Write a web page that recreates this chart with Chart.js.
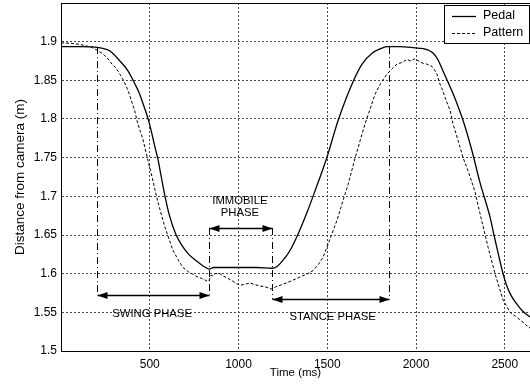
<!DOCTYPE html>
<html>
<head>
<meta charset="utf-8">
<script src="https://cdn.jsdelivr.net/npm/chart.js@4"></script>
<style>
  html, body { margin: 0; padding: 0; background: #fff; }
</style>
</head>
<body>
<canvas id="distChart" width="530" height="387"></canvas>
<script>
// Pedal (solid) readings, time in ms / distance in m
const pedalTime = [0, 100, 180, 230, 276, 332, 378, 417, 440, 462,
  480, 498, 515, 530, 546, 565, 586, 610, 645, 680,
  720, 760, 800, 835, 860, 900, 1000, 1100, 1190, 1215,
  1234, 1260, 1290, 1337, 1384, 1431, 1496, 1561, 1639, 1696,
  1752, 1800, 1836, 1910, 1994, 2040, 2070, 2097, 2125, 2152,
  2210, 2265, 2315, 2360, 2417, 2439, 2465, 2490, 2510, 2535,
  2567, 2603, 2642];
const pedalDist = [1.8935, 1.8935, 1.8933, 1.8915, 1.888, 1.875, 1.862, 1.845, 1.834, 1.820,
  1.808, 1.794, 1.778, 1.763, 1.748, 1.725, 1.700, 1.676, 1.652, 1.637,
  1.625, 1.617, 1.610, 1.606, 1.608, 1.608, 1.608, 1.608, 1.607, 1.609,
  1.613, 1.620, 1.630, 1.652, 1.678, 1.707, 1.749, 1.798, 1.845, 1.871,
  1.885, 1.891, 1.8935, 1.8935, 1.892, 1.891, 1.889, 1.885, 1.876, 1.862,
  1.832, 1.798, 1.759, 1.718, 1.673, 1.650, 1.624, 1.600, 1.585, 1.572,
  1.561, 1.551, 1.544];

// Pattern (dashed) readings
const patternTime = [0, 50, 107, 150, 180, 210, 237, 260, 287, 310,
  332, 352, 372, 385, 400, 415, 428, 445, 460, 473,
  490, 505, 520, 535, 549, 567, 586, 608, 631, 660,
  687, 720, 745, 766, 790, 810, 825, 835, 845, 856,
  870, 896, 913, 940, 969, 990, 1008, 1030, 1065, 1090,
  1121, 1150, 1175, 1189, 1210, 1234, 1270, 1300, 1330, 1360,
  1390, 1420, 1450, 1476, 1498, 1527, 1555, 1589, 1617, 1640,
  1656, 1685, 1713, 1740, 1769, 1800, 1836, 1865, 1893, 1920,
  1949, 1970, 1994, 2020, 2040, 2060, 2090, 2105, 2118, 2135,
  2150, 2163, 2192, 2208, 2237, 2265, 2293, 2315, 2332, 2360,
  2406, 2445, 2490, 2530, 2560, 2586, 2610, 2631, 2642];
const patternDist = [1.8985, 1.898, 1.8965, 1.894, 1.892, 1.888, 1.884, 1.879, 1.871, 1.866,
  1.858, 1.850, 1.840, 1.832, 1.821, 1.811, 1.798, 1.785, 1.775, 1.763,
  1.746, 1.733, 1.718, 1.703, 1.690, 1.675, 1.660, 1.645, 1.630, 1.618,
  1.608, 1.602, 1.599, 1.596, 1.594, 1.592, 1.590, 1.592, 1.598, 1.597,
  1.600, 1.600, 1.597, 1.594, 1.590, 1.587, 1.585, 1.586, 1.588, 1.586,
  1.584, 1.583, 1.581, 1.580, 1.583, 1.585, 1.588, 1.591, 1.594, 1.597,
  1.600, 1.604, 1.612, 1.621, 1.634, 1.652, 1.669, 1.695, 1.715, 1.735,
  1.749, 1.772, 1.794, 1.812, 1.832, 1.846, 1.858, 1.865, 1.871, 1.873,
  1.877, 1.875, 1.878, 1.874, 1.872, 1.871, 1.868, 1.863, 1.858, 1.845,
  1.837, 1.828, 1.811, 1.794, 1.772, 1.750, 1.733, 1.718, 1.706, 1.678,
  1.634, 1.600, 1.566, 1.550, 1.545, 1.540, 1.536, 1.531, 1.530];

const xTicks = [0, 500, 1000, 1500, 2000, 2500];
const yTicks = [1.5, 1.55, 1.6, 1.65, 1.7, 1.75, 1.8, 1.85, 1.9];

// phase markers: [time, top value, bottom value]
const guideLines = [[200, 1.893, 1.573], [835, 1.659, 1.573], [1190, 1.659, 1.567], [1850, 1.893, 1.567]];
// arrows: [from time, to time, value]
const phaseArrows = [[200, 835, 1.573], [835, 1190, 1.659], [1190, 1850, 1.567]];
// labels: [text, time, value]
const phaseLabels = [["SWING PHASE", 513, 1.548], ["IMMOBILE", 1008, 1.6946], ["PHASE", 1008, 1.678], ["STANCE PHASE", 1530, 1.544]];

const FONT = '"Liberation Sans", Arial, Helvetica, sans-serif';
Chart.defaults.font.family = FONT;
Chart.defaults.color = "#000";

const toPoints = (ts, vs) => ts.map((t, i) => ({ x: t, y: vs[i] }));

// top border of the axes box
const frame = {
  id: "frame",
  afterDraw(chart) {
    const { ctx, chartArea: a } = chart;
    ctx.save();
    ctx.strokeStyle = "#000";
    ctx.lineWidth = 1;
    ctx.beginPath();
    ctx.moveTo(a.left, a.top + 0.5);
    ctx.lineTo(a.right, a.top + 0.5);
    ctx.stroke();
    ctx.restore();
  }
};

// dash-dot guides, arrows and phase names
const phaseMarks = {
  id: "phaseMarks",
  afterDatasetsDraw(chart) {
    const { ctx, scales: { x, y } } = chart;
    ctx.save();
    ctx.strokeStyle = "#000";
    ctx.fillStyle = "#000";
    ctx.lineWidth = 1;
    ctx.setLineDash([7, 3, 1, 3]);
    guideLines.forEach(([t, top, bottom]) => {
      const px = Math.round(x.getPixelForValue(t)) + 0.5;
      ctx.beginPath();
      ctx.moveTo(px, y.getPixelForValue(top));
      ctx.lineTo(px, y.getPixelForValue(bottom));
      ctx.stroke();
    });
    ctx.setLineDash([]);
    ctx.lineWidth = 1.5;
    phaseArrows.forEach(([t0, t1, v]) => {
      const a = Math.round(x.getPixelForValue(t0)) + 0.5;
      const b = Math.round(x.getPixelForValue(t1)) + 0.5;
      const py = Math.round(y.getPixelForValue(v)) + 0.5;
      ctx.beginPath();
      ctx.moveTo(a, py);
      ctx.lineTo(b, py);
      ctx.stroke();
      [[a, 1], [b, -1]].forEach(([tip, dir]) => {
        ctx.beginPath();
        ctx.moveTo(tip, py);
        ctx.lineTo(tip + dir * 10, py - 3.5);
        ctx.lineTo(tip + dir * 10, py + 3.5);
        ctx.closePath();
        ctx.fill();
      });
    });
    ctx.font = "11.3px " + FONT;
    ctx.textAlign = "center";
    ctx.textBaseline = "middle";
    phaseLabels.forEach(([txt, t, v]) => {
      ctx.fillText(txt, x.getPixelForValue(t), y.getPixelForValue(v));
    });
    ctx.restore();
  }
};

// boxed legend in the top right corner
const legendBox = {
  id: "legendBox",
  afterDraw(chart) {
    const { ctx, chartArea } = chart;
    const w = 85, h = 38;
    const x0 = Math.round(chartArea.right - w - 1), y0 = Math.round(chartArea.top + 2);
    ctx.save();
    ctx.fillStyle = "#fff";
    ctx.fillRect(x0, y0, w, h);
    ctx.strokeStyle = "#000";
    ctx.lineWidth = 1;
    ctx.strokeRect(x0 + 0.5, y0 + 0.5, w, h);
    ctx.font = "12.5px " + FONT;
    ctx.textBaseline = "middle";
    ctx.fillStyle = "#000";
    chart.data.datasets.forEach((ds, i) => {
      const ly = y0 + 11 + i * 17;
      ctx.setLineDash(ds.borderDash || []);
      ctx.lineWidth = ds.borderWidth;
      ctx.beginPath();
      ctx.moveTo(x0 + 8, ly + 0.5);
      ctx.lineTo(x0 + 32, ly + 0.5);
      ctx.stroke();
      ctx.setLineDash([]);
      ctx.fillText(ds.label, x0 + 39, ly);
    });
    ctx.restore();
  }
};

new Chart(document.getElementById("distChart"), {
  type: "line",
  data: {
    datasets: [
      {
        label: "Pedal",
        data: toPoints(pedalTime, pedalDist),
        borderColor: "#000",
        borderWidth: 1.3,
        pointRadius: 0,
        cubicInterpolationMode: "monotone",
        fill: false
      },
      {
        label: "Pattern",
        data: toPoints(patternTime, patternDist),
        borderColor: "#000",
        borderWidth: 1,
        borderDash: [3, 2],
        pointRadius: 0,
        tension: 0,
        fill: false
      }
    ]
  },
  options: {
    responsive: false,
    animation: false,
    layout: { padding: { top: 3, right: 0, left: 0, bottom: 0 } },
    plugins: { legend: { display: false }, tooltip: { enabled: false } },
    scales: {
      x: {
        type: "linear",
        min: 0,
        max: 2642,
        afterBuildTicks: s => { s.ticks = xTicks.map(v => ({ value: v })); },
        afterFit: s => { s.height = 36; s.paddingLeft = 0; s.paddingRight = 0; },
        ticks: {
          font: { size: 12 },
          padding: 6,
          maxRotation: 0,
          callback: v => (v === 0 ? "" : String(v))
        },
        grid: { color: "#444", lineWidth: 1, drawTicks: false },
        border: { display: true, color: "#000", width: 1, dash: [2, 2] },
        title: { display: true, text: "Time (ms)", font: { size: 11.5 }, padding: { top: 0, bottom: 7 } }
      },
      y: {
        min: 1.5,
        max: 1.95,
        afterBuildTicks: s => { s.ticks = yTicks.map(v => ({ value: v })); },
        afterFit: s => { s.width = 61; s.paddingTop = 0; s.paddingBottom = 0; },
        ticks: {
          font: { size: 12 },
          padding: 4,
          callback: v => String(+v.toFixed(2))
        },
        grid: { color: "#444", lineWidth: 1, drawTicks: false },
        border: { display: true, color: "#000", width: 1, dash: [2, 2] },
        title: { display: true, text: "Distance from camera (m)", font: { size: 13.5 }, padding: { top: 12, bottom: 0 } }
      }
    }
  },
  plugins: [phaseMarks, frame, legendBox]
});
</script>
</body>
</html>
